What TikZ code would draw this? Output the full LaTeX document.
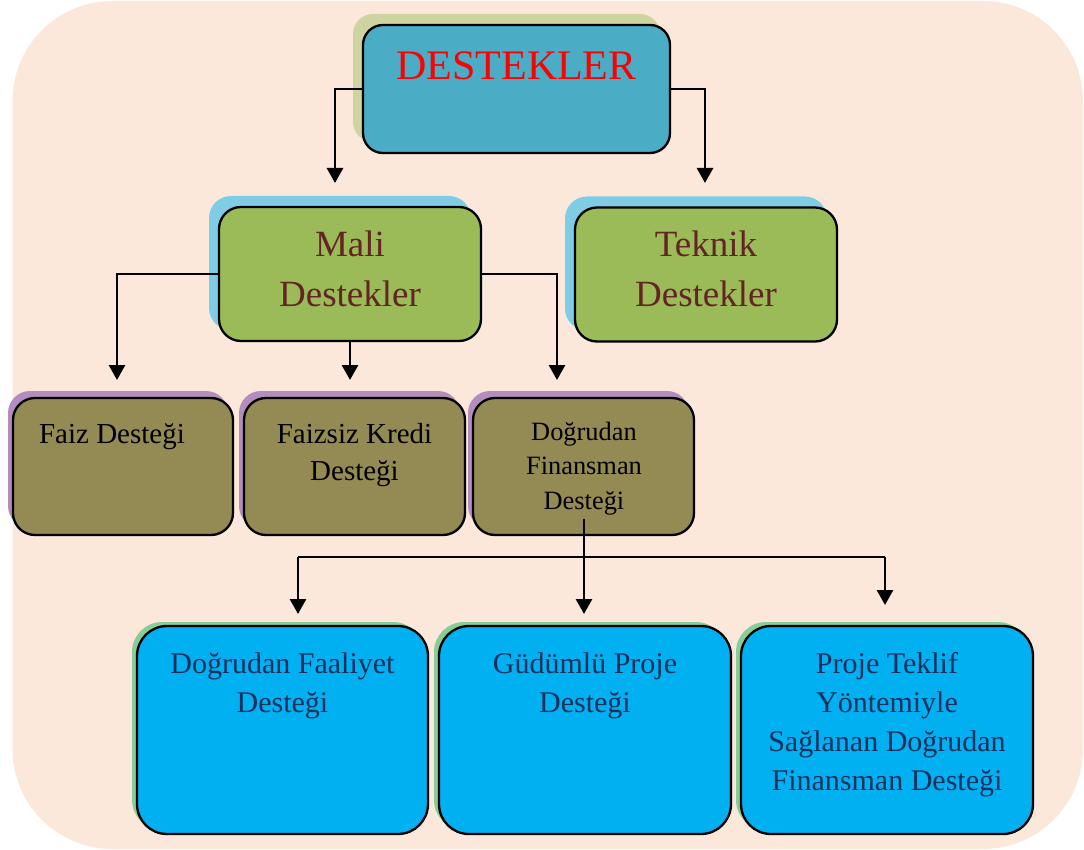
\documentclass[tikz,border=0pt]{standalone}
\usepackage{fontspec}
\setmainfont{Liberation Serif}
\usetikzlibrary{arrows.meta,shadows}

\definecolor{pagebg}{HTML}{FCE8DA}
\definecolor{rootfill}{HTML}{4BACC6}
\definecolor{rootshade}{HTML}{CED4A0}
\definecolor{midfill}{HTML}{9BBB59}
\definecolor{midshade}{HTML}{7ECDE4}
\definecolor{midtext}{HTML}{632523}
\definecolor{lowfill}{HTML}{948A54}
\definecolor{lowshade}{HTML}{B38DC0}
\definecolor{leaffill}{HTML}{00B0F0}
\definecolor{leafshade}{HTML}{88CC98}
\definecolor{leaftext}{HTML}{14305E}

% stacked centred lines whose baseline is that of the first line
\newcommand\stackedtext[1]{\begin{tabular}[t]{@{}c@{}}#1\end{tabular}}

\tikzset{
  conn/.style={line width=2.8pt, -{Triangle[length=15pt,width=16pt]}},
  card/.style={draw=black, line width=2.3pt, inner sep=0pt},
  rootbox/.style={card, fill=rootfill, rounded corners=20pt,
    drop shadow={shadow xshift=-10pt, shadow yshift=11pt, fill=rootshade, opacity=1}},
  midbox/.style={card, fill=midfill, rounded corners=22pt,
    minimum width=262pt, minimum height=134pt,
    drop shadow={shadow xshift=-10pt, shadow yshift=11pt, fill=midshade, opacity=1}},
  lowbox/.style={card, fill=lowfill, rounded corners=22pt,
    minimum width=221pt, minimum height=137pt,
    drop shadow={shadow xshift=-5pt, shadow yshift=7pt, fill=lowshade, opacity=1}},
  leafbox/.style={card, fill=leaffill, rounded corners=30pt,
    minimum width=292pt, minimum height=208pt,
    drop shadow={shadow xshift=-5pt, shadow yshift=4pt, fill=leafshade, opacity=1}},
  txt/.style={anchor=base, inner sep=0pt},
  midtxt/.style={txt, text=midtext, font=\fontsize{37}{50}\selectfont},
  lowtxt/.style={txt, text=black, font=\fontsize{29}{37}\selectfont},
  leaftxt/.style={txt, text=leaftext, font=\fontsize{30}{39}\selectfont},
}

\begin{document}
\begin{tikzpicture}[x=1pt, y=-1pt]
  \useasboundingbox (0,0) rectangle (1084,850);
  % page panel
  \fill[pagebg, rounded corners=100pt] (12.5,1) rectangle (1083,849);

  % top level
  \node[rootbox, minimum width=307pt, minimum height=128pt] (root) at (516.5,89) {};
  \node[txt, text=red, font=\fontsize{42}{50}\selectfont] (t-root) at (516.5,80) {DESTEKLER};

  % second level
  \node[midbox] (mali) at (350,274) {};
  \node[midtxt] (t-mali) at (350,257) {\stackedtext{Mali\\Destekler}};
  \node[midbox] (teknik) at (706,274.5) {};
  \node[midtxt] (t-teknik) at (706,257) {\stackedtext{Teknik\\Destekler}};

  % third level
  \node[lowbox, minimum width=220pt] (faiz) at (123,466.5) {};
  \node[lowtxt] (t-faiz) at (112,443) {Faiz Desteği};
  \node[lowbox] (faizsiz) at (354.5,466.5) {};
  \node[lowtxt] (t-faizsiz) at (354.5,443) {\stackedtext{Faizsiz Kredi\\Desteği}};
  \node[lowbox] (dfin) at (583.5,466.5) {};
  \node[txt, text=black, font=\fontsize{26.4}{34.5}\selectfont] (t-dfin) at (584,440)
    {\stackedtext{Doğrudan\\Finansman\\Desteği}};

  % fourth level
  \node[leafbox, minimum width=291pt] (faaliyet) at (282.5,730) {};
  \node[leaftxt] (t-faaliyet) at (282.5,673) {\stackedtext{Doğrudan Faaliyet\\Desteği}};
  \node[leafbox] (gudumlu) at (585,730) {};
  \node[leaftxt] (t-gudumlu) at (585,673) {\stackedtext{Güdümlü Proje\\Desteği}};
  \node[leafbox] (teklif) at (887,730) {};
  \node[leaftxt] (t-teklif) at (887,673)
    {\stackedtext{Proje Teklif\\Yöntemiyle\\Sağlanan Doğrudan\\Finansman Desteği}};

  % arrow ends and branch points
  \coordinate (mali-in)    at (335,183);
  \coordinate (teknik-in)  at (705,183);
  \coordinate (faiz-in)    at (117,380);
  \coordinate (faizsiz-in) at (350,380);
  \coordinate (dfin-in)    at (557,380);
  \coordinate (fork-l)     at (298,557);
  \coordinate (fork-r)     at (885,557);
  \coordinate (faaliyet-in) at (298,614);
  \coordinate (gudumlu-in)  at (584,614);
  \coordinate (teklif-in)   at (885,605);

  % connectors
  \draw[conn] (root.west) -| (mali-in);
  \draw[conn] (root.east) -| (teknik-in);
  \draw[conn] (mali.west) -| (faiz-in);
  \draw[conn] (mali.south) -- (faizsiz-in);
  \draw[conn] (mali.east) -| (dfin-in);
  \draw[conn] ([xshift=0.5pt, yshift=17pt]dfin.south) -- (gudumlu-in);
  \draw[line width=2.8pt] (fork-l) -- (fork-r);
  \draw[conn] (fork-l) -- (faaliyet-in);
  \draw[conn] (fork-r) -- (teklif-in);
\end{tikzpicture}
\end{document}
